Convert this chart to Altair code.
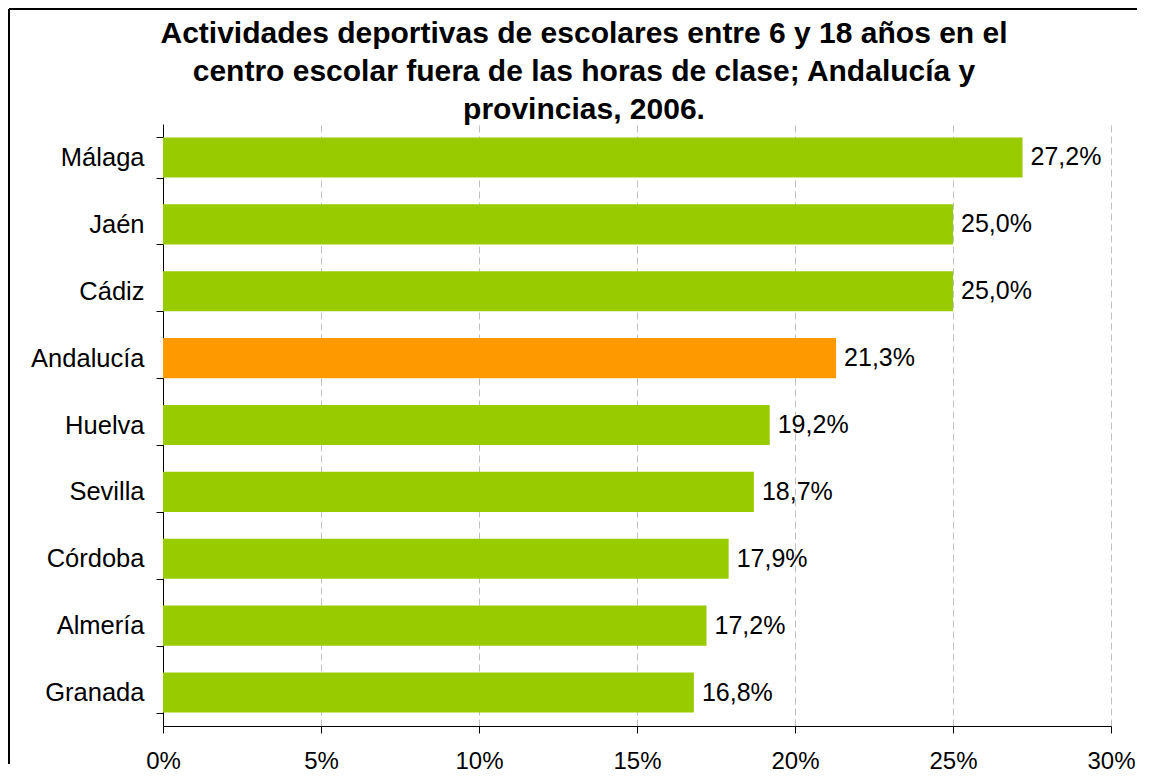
import altair as alt
import pandas as pd

categories = ["Málaga", "Jaén", "Cádiz", "Andalucía", "Huelva", "Sevilla ", "Córdoba", "Almería", "Granada"]
values = [27.2, 25.0, 25.0, 21.3, 19.2, 18.7, 17.9, 17.2, 16.8]
highlight = ["Andalucía"]
title_lines = [
    "Actividades deportivas de escolares entre 6 y 18 años en el",
    "centro escolar fuera de las horas de clase; Andalucía y",
    "provincias, 2006.",
]
x_ticks = [0, 5, 10, 15, 20, 25, 30]

GREEN = "#99CC00"
ORANGE = "#FF9900"
FONT = "Liberation Sans"
W, H = 948, 602

df = pd.DataFrame({"region": categories, "value": values})
df["color"] = [ORANGE if c in highlight else GREEN for c in categories]
df["label"] = [f"{v:.1f}".replace(".", ",") + "%" for v in values]

y_enc = alt.Y(
    "region:N",
    sort=categories,
    scale=alt.Scale(paddingInner=0.4, paddingOuter=0.2),
    axis=alt.Axis(
        title=None,
        tickBand="extent",
        labelFontSize=25.5,
        labelFont=FONT,
        labelColor="black",
        labelPadding=12,
        tickSize=7,
        tickColor="black",
        domainColor="black",
        grid=False,
        labelLimit=400,
    ),
)
x_enc = alt.X(
    "value:Q",
    scale=alt.Scale(domain=[0, 30], nice=False),
    axis=alt.Axis(
        title=None,
        values=x_ticks,
        labelExpr="datum.value + '%'",
        labelFlush=False,
        labelFontSize=24,
        labelFont=FONT,
        labelColor="black",
        labelPadding=16,
        tickSize=7,
        tickColor="black",
        domainColor="black",
        grid=True,
        gridDash=[7, 4],
        gridColor="#c0c0c0",
        gridWidth=1,
    ),
)

bars = alt.Chart(df).mark_bar().encode(
    x=x_enc, y=y_enc, color=alt.Color("color:N", scale=None)
)

labels = alt.Chart(df).mark_text(
    align="left", baseline="middle", dx=8, fontSize=25, font=FONT, color="black"
).encode(
    x=alt.X("value:Q"),
    y=alt.Y("region:N", sort=categories),
    text="label:N",
)

one = pd.DataFrame({"k": [0]})

title = alt.Chart(one).mark_text(
    text=title_lines,
    fontSize=30,
    fontWeight="bold",
    font=FONT,
    color="black",
    align="center",
    baseline="alphabetic",
    lineHeight=38,
).encode(x=alt.value(421), y=alt.value(-81))

border_top = alt.Chart(one).mark_rule(color="black", strokeWidth=2).encode(
    x=alt.value(-154), x2=alt.value(974), y=alt.value(-115)
)
border_left = alt.Chart(one).mark_rule(color="black", strokeWidth=2).encode(
    x=alt.value(-154), y=alt.value(-115), y2=alt.value(640)
)

chart = (
    alt.layer(bars, labels, title, border_top, border_left)
    .properties(width=W, height=H, padding=0)
    .configure_view(stroke=None)
)

chart.save("out.html", embed_options={"renderer": "svg", "actions": False})
